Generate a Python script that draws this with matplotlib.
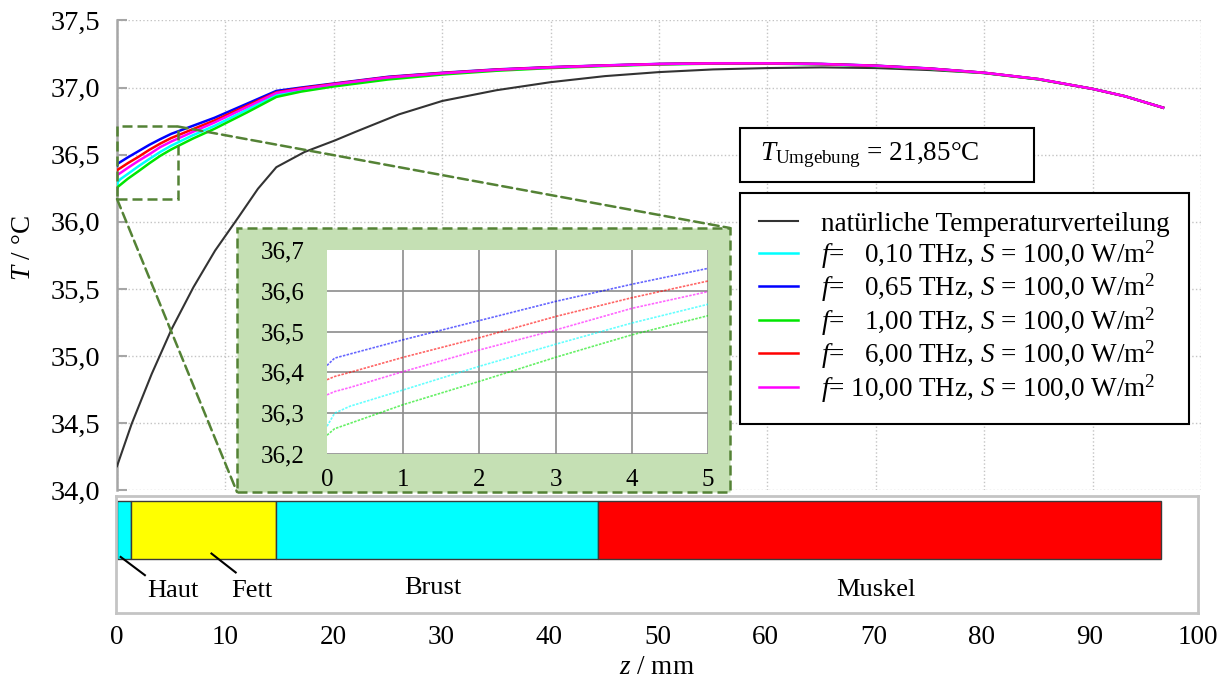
import matplotlib
matplotlib.use("Agg")
import matplotlib.pyplot as plt
from matplotlib.patches import Rectangle, ConnectionPatch

plt.rcParams['font.family'] = ['Liberation Serif', 'DejaVu Serif']
plt.rcParams['mathtext.fontset'] = 'custom'
plt.rcParams['mathtext.rm'] = 'Liberation Serif'
plt.rcParams['mathtext.it'] = 'Liberation Serif:italic'
plt.rcParams['mathtext.bf'] = 'Liberation Serif:bold'

# ---------------- data ----------------
# natural temperature distribution (no irradiation)
z_nat = [0, 1.35, 3.2, 5.05, 7.05, 9.05, 11.2, 13.0, 14.7, 17.3, 20.1, 22, 26, 30,
         35, 40, 45, 50, 55, 60, 65, 70, 75, 80, 85, 90, 93, 96.5]
T_nat = [34.18, 34.495, 34.867, 35.203, 35.513, 35.786, 36.034, 36.246, 36.407,
         36.52, 36.606, 36.67, 36.80, 36.90, 36.98, 37.04, 37.085, 37.115, 37.135,
         37.145, 37.15, 37.145, 37.13, 37.107, 37.06, 36.99, 36.935, 36.85]

# irradiated cases, S = 100 W/m^2
z_irr = [0, 0.1, 0.3, 1, 2, 3, 4, 5, 7, 9, 12, 14.7, 17, 20, 25, 30, 35, 40, 45,
         50, 55, 60, 65, 70, 75, 80, 85, 90, 93, 96.5]
T_f010 = [36.268, 36.300, 36.317, 36.357, 36.415, 36.469, 36.521, 36.567, 36.645,
          36.715, 36.835, 36.945, 36.982, 37.018, 37.070, 37.103, 37.130, 37.149,
          37.163, 37.174, 37.179, 37.179, 37.174, 37.161, 37.140, 37.109, 37.062,
          36.990, 36.935, 36.850]
T_f065 = [36.417, 36.435, 36.445, 36.480, 36.527, 36.574, 36.616, 36.655, 36.715,
          36.775, 36.880, 36.975, 37.000, 37.030, 37.080, 37.110, 37.135, 37.152,
          37.165, 37.176, 37.181, 37.181, 37.176, 37.163, 37.142, 37.110, 37.063,
          36.990, 36.935, 36.850]
T_f100 = [36.246, 36.262, 36.275, 36.321, 36.378, 36.437, 36.492, 36.539, 36.620,
          36.693, 36.815, 36.930, 36.970, 37.008, 37.060, 37.097, 37.125, 37.145,
          37.160, 37.172, 37.178, 37.178, 37.173, 37.160, 37.139, 37.108, 37.061,
          36.990, 36.935, 36.850]
T_f600 = [36.382, 36.390, 36.400, 36.437, 36.485, 36.537, 36.583, 36.624, 36.690,
          36.755, 36.865, 36.965, 36.995, 37.027, 37.077, 37.108, 37.133, 37.151,
          37.164, 37.175, 37.180, 37.180, 37.175, 37.162, 37.141, 37.110, 37.063,
          36.990, 36.935, 36.850]
T_f1000 = [36.345, 36.353, 36.363, 36.402, 36.455, 36.504, 36.557, 36.598, 36.670,
           36.740, 36.855, 36.960, 36.990, 37.024, 37.075, 37.106, 37.132, 37.150,
           37.164, 37.175, 37.180, 37.180, 37.175, 37.162, 37.141, 37.110, 37.063,
           36.990, 36.935, 36.850]

series_T = [T_f010, T_f065, T_f100, T_f600, T_f1000]
series_freq = ['  0,10', '  0,65', '  1,00', '  6,00', '10,00']
series_colors = ['#00ffff', '#0000ff', '#00e600', '#ff0000', '#ff00ff']

# tissue layers along depth z
layer_names = ['Haut', 'Fett', 'Brust', 'Muskel']
layer_edges = [0, 1.3, 14.7, 44.5, 96.6]
layer_colors = ['#00ffff', '#ffff00', '#00ffff', '#ff0000']

x_ticks = [0, 10, 20, 30, 40, 50, 60, 70, 80, 90, 100]
y_ticks = [34.0, 34.5, 35.0, 35.5, 36.0, 36.5, 37.0, 37.5]
inset_x_ticks = [0, 1, 2, 3, 4, 5]
inset_y_ticks = [36.2, 36.3, 36.4, 36.5, 36.6, 36.7]

T_ambient = '21,85'

# ---------------- figure ----------------
W, H = 1227, 679
fig = plt.figure(figsize=(W / 100, H / 100), dpi=100)


def fx(px):
    return px / W


def fy(py):
    return 1 - py / H


def comma(v, fmt):
    return format(v, fmt).replace('.', ',')


GREEN_DARK = '#548235'
GREEN_FILL = '#c5e0b4'
DASH = (0, (4, 2))

# main temperature axes
ax = fig.add_axes([fx(117), fy(490.4), (1201 - 117) / W, (490.4 - 20.4) / H])
ax.set_xlim(0, 100)
ax.set_ylim(34.0, 37.5)
for s in ('top', 'right', 'bottom'):
    ax.spines[s].set_visible(False)
ax.spines['left'].set_color('#a6a6a6')
ax.spines['left'].set_linewidth(1.8)
ax.set_xticks(x_ticks)
ax.tick_params(axis='x', length=0, labelbottom=False)
ax.set_yticks(y_ticks)
ax.set_yticklabels([comma(v, '.1f') for v in y_ticks])
ax.tick_params(axis='y', direction='in', length=7, width=1.5, color='#a6a6a6',
               labelsize=20.5, pad=12)
ax.grid(True, linestyle=':', color='#c4c4c4', linewidth=1.0)
ax.set_axisbelow(True)

ax.plot(z_nat, T_nat, color='#333333', lw=1.5,
        label='natürliche Temperaturverteilung', zorder=3)
for T, fr, col in zip(series_T, series_freq, series_colors):
    ax.plot(z_irr, T, color=col, lw=1.8, zorder=3,
            label='$f$= ' + fr + ' THz, $S$ = 100,0 W/$\\mathrm{m}^2$  ')

handles, labels = ax.get_legend_handles_labels()
leg = ax.legend(handles, labels, loc='upper left',
                bbox_to_anchor=(fx(740), fy(193)), bbox_transform=fig.transFigure,
                borderaxespad=0, frameon=True, fancybox=False, framealpha=1,
                edgecolor='black', fontsize=19.5, handlelength=1.45,
                handletextpad=0.85, labelspacing=0.04, borderpad=0.7)
leg.get_frame().set_linewidth(1.5)
leg.set_zorder(6)

# zoom window in the main plot
zoom_z0, zoom_z1, zoom_T0, zoom_T1 = 0, 5.6, 36.17, 36.71
ax.add_patch(Rectangle((zoom_z0, zoom_T0), zoom_z1 - zoom_z0, zoom_T1 - zoom_T0,
                       fill=False, ec=GREEN_DARK, ls=DASH, lw=1.8, clip_on=False,
                       zorder=4))

# ambient temperature box
fig.add_artist(Rectangle((fx(740), fy(182)), (1034 - 740) / W, (182 - 128) / H,
                         transform=fig.transFigure, fc='white', ec='black', lw=1.5,
                         zorder=5))
fig.text(fx(760), fy(155), '$T_{\\mathrm{Umgebung}}$ = ' + T_ambient + '°C',
         fontsize=19.5, va='center', ha='left', zorder=6)

# inset panel background
fig.add_artist(Rectangle((fx(237), fy(492)), (730 - 237) / W, (492 - 228) / H,
                         transform=fig.transFigure, fc=GREEN_FILL, ec=GREEN_DARK,
                         ls=DASH, lw=1.8, zorder=2))
fig.add_artist(ConnectionPatch(xyA=(zoom_z1, zoom_T1), coordsA=ax.transData,
                               xyB=(fx(730), fy(228)), coordsB=fig.transFigure,
                               color=GREEN_DARK, ls=DASH, lw=1.8, zorder=2))
fig.add_artist(ConnectionPatch(xyA=(zoom_z0, zoom_T0), coordsA=ax.transData,
                               xyB=(fx(237), fy(492)), coordsB=fig.transFigure,
                               color=GREEN_DARK, ls=DASH, lw=1.8, zorder=2))

# inset axes
axin = fig.add_axes([fx(327), fy(454), (708 - 327) / W, (454 - 250) / H])
axin.set_zorder(3)
axin.set_facecolor('white')
axin.set_xlim(0, 5)
axin.set_ylim(36.2, 36.7)
for s in axin.spines.values():
    s.set_visible(False)
axin.set_xticks(inset_x_ticks)
axin.set_xticklabels([str(v) for v in inset_x_ticks])
axin.set_yticks(inset_y_ticks)
axin.set_yticklabels([comma(v, '.1f') for v in inset_y_ticks])
axin.tick_params(axis='both', length=0, labelsize=18)
axin.tick_params(axis='y', pad=16)
axin.tick_params(axis='x', pad=11)
axin.grid(True, color='#8c8c8c', lw=1.2)
axin.get_xgridlines()[0].set_visible(False)
axin.get_ygridlines()[-1].set_visible(False)
axin.set_axisbelow(True)
for T, col in zip(series_T, series_colors):
    axin.plot(z_irr, T, color=col, lw=1.2, ls=(0, (1.5, 0.8)), alpha=0.6)

# tissue layer strip
axt = fig.add_axes([fx(116), fy(613), (1198 - 116) / W, (613 - 495.5) / H])
axt.set_xlim((116 - 117) / 10.84, (1198 - 117) / 10.84)
axt.set_ylim(0, 1)
for s in axt.spines.values():
    s.set_color('#c4c4c4')
    s.set_linewidth(2)
lefts = layer_edges[:-1]
widths = [b - a for a, b in zip(layer_edges[:-1], layer_edges[1:])]
axt.bar(lefts, [0.494] * len(lefts), width=widths, bottom=0.458, align='edge',
        color=layer_colors, edgecolor='#3a3a3a', linewidth=1.0)
axt.set_yticks([])
axt.set_xticks(x_ticks)
axt.set_xticklabels([str(v) for v in x_ticks])
axt.tick_params(axis='x', length=0, labelsize=19.5, pad=9)

label_z = [5.2, 12.5, 29.2, 70.2]
label_y = [0.19, 0.19, 0.21, 0.195]
for name, lz, ly in zip(layer_names, label_z, label_y):
    axt.text(lz, ly, name, fontsize=19, ha='center', va='center')
axt.plot([0.34, 2.58], [0.477, 0.322], color='black', lw=1.5)
axt.plot([8.74, 10.98], [0.506, 0.345], color='black', lw=1.5)

# axis titles
fig.text(fx(24), fy(248), '$T$ / °C', rotation=90, fontsize=19.5,
         ha='center', va='center')
fig.text(fx(657), fy(667), '$z$ / mm', fontsize=19.5, ha='center', va='center')

fig.savefig('out.png', dpi=100)
